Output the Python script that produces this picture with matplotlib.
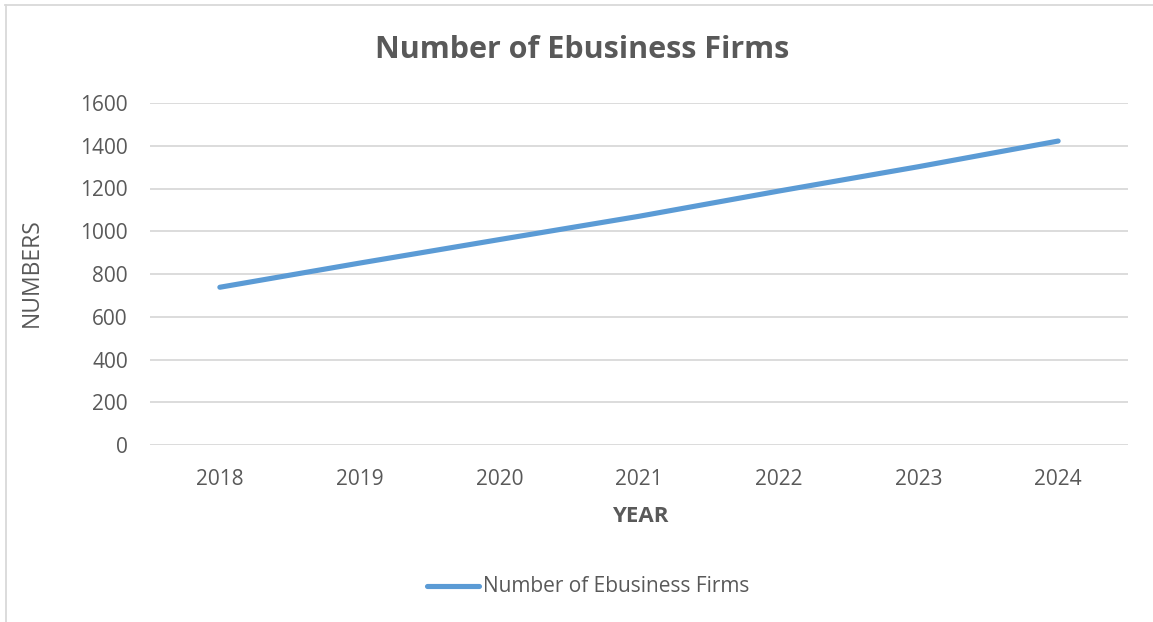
import matplotlib
matplotlib.use("Agg")
import matplotlib.pyplot as plt
from matplotlib.lines import Line2D

years = ["2018", "2019", "2020", "2021", "2022", "2023", "2024"]
firms = [738, 851, 961, 1070, 1188, 1302, 1422]
y_ticks = [0, 200, 400, 600, 800, 1000, 1200, 1400, 1600]

TEXT = "#595959"
GRID = "#D9D9D9"
LINE = "#5B9BD5"

plt.rcParams["font.family"] = ["Open Sans", "DejaVu Sans"]

W, H = 1153, 622
fig = plt.figure(figsize=(W / 100, H / 100), dpi=100)

# plot area in pixel coordinates
left, right, top, bottom = 150, 1128, 103, 445
ax = fig.add_axes([left / W, 1 - bottom / H, (right - left) / W, (bottom - top) / H])

x = list(range(len(years)))
ax.plot(x, firms, color=LINE, lw=3.7, solid_capstyle="round", zorder=3)

ax.set_xlim(-0.5, len(years) - 0.5)
ax.set_ylim(0, 1600)
ax.set_yticks(y_ticks)
ax.set_yticklabels([str(v) for v in y_ticks])
ax.set_xticks(x)
ax.set_xticklabels(years)
ax.tick_params(axis="both", length=0, labelsize=15, labelcolor=TEXT)
ax.tick_params(axis="y", pad=16)
ax.tick_params(axis="x", pad=17)
for s in ax.spines.values():
    s.set_visible(False)
ax.grid(axis="y", color=GRID, lw=1.3)
ax.set_axisbelow(True)

# chart frame (top and left edges)
fig.add_artist(Line2D([5 / W, 1], [1 - 5 / H, 1 - 5 / H], color=GRID, lw=1.3))
fig.add_artist(Line2D([5.5 / W, 5.5 / W], [0, 1 - 5 / H], color=GRID, lw=1.3))

fig.text(582 / W, 1 - 50 / H, "Number of Ebusiness Firms", ha="center", va="center",
         fontsize=22, fontweight="bold", color=TEXT)
fig.text(32 / W, 1 - 273 / H, "NUMBERS", ha="center", va="center", rotation=90,
         fontsize=16.5, color=TEXT)
fig.text(640 / W, 1 - 516 / H, "YEAR", ha="center", va="center",
         fontsize=16, fontweight="bold", color=TEXT)

# legend
fig.add_artist(Line2D([427 / W, 479 / W], [1 - 586 / H, 1 - 586 / H], color=LINE,
                      lw=3.7, solid_capstyle="round"))
fig.text(483 / W, 1 - 586 / H, "Number of Ebusiness Firms", ha="left", va="center",
         fontsize=15, color=TEXT)

fig.savefig("out.png", dpi=100)
